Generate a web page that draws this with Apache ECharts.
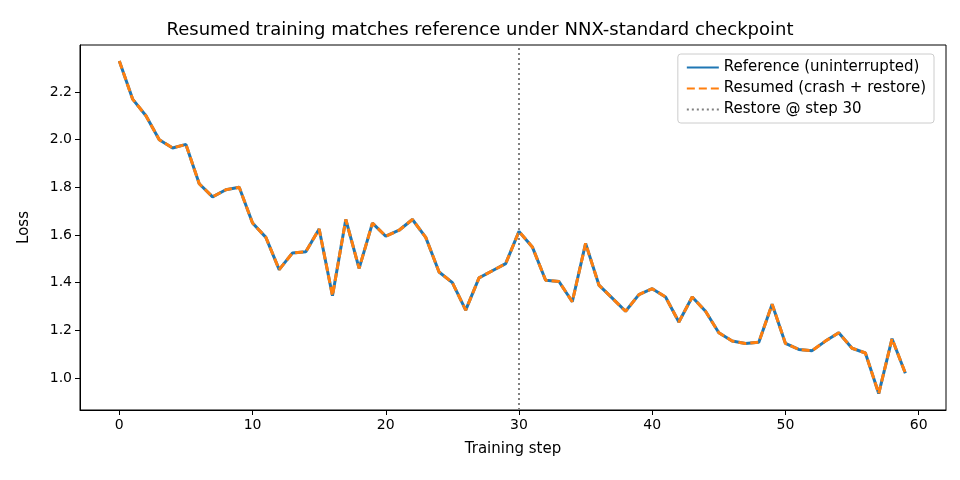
<!DOCTYPE html>
<html><head><meta charset="utf-8">
<script src="https://cdn.jsdelivr.net/npm/echarts@6/dist/echarts.min.js"></script>
<style>html,body{margin:0;padding:0;background:#fff}#c{width:960px;height:480px}</style>
</head><body><div id="c"></div>
<script>
const steps = Array.from({length:60},(_,i)=>i);
const lossRef = [2.33,2.17,2.10,2.00,1.965,1.98,1.815,1.76,1.79,1.80,1.65,1.59,1.455,1.525,1.53,1.625,1.345,1.665,1.46,1.65,1.595,1.62,1.665,1.59,1.445,1.40,1.285,1.42,1.45,1.48,1.615,1.55,1.41,1.405,1.32,1.565,1.39,1.335,1.28,1.35,1.375,1.34,1.235,1.34,1.28,1.19,1.155,1.145,1.15,1.31,1.145,1.12,1.115,1.155,1.19,1.125,1.105,0.935,1.165,1.02];
const lossResumed = lossRef.slice();
const restoreStep = 30;
const xTicks = [0,10,20,30,40,50,60];
const yTicks = [1.0,1.2,1.4,1.6,1.8,2.0,2.2];
const yMin = 0.866, yMax = 2.397;
const chart = echarts.init(document.getElementById('c'));
const font = 'DejaVu Sans';
chart.setOption({
  animation:false,
  textStyle:{fontFamily:font},
  title:{text:'Resumed training matches reference under NNX-standard checkpoint',left:'center',top:16,textStyle:{fontSize:18,fontWeight:'normal',color:'#000',fontFamily:font}},
  grid:{left:80,right:14,top:45,bottom:70,show:true,borderColor:'#000',borderWidth:1},
  legend:{right:26,top:54,orient:'vertical',backgroundColor:'#fff',borderColor:'#ccc',borderWidth:1,borderRadius:3,padding:[6,8],itemGap:6,itemWidth:32,itemHeight:10,
    itemStyle:{opacity:0},textStyle:{fontSize:15,color:'#000'},
    data:[{name:'Reference (uninterrupted)'},{name:'Resumed (crash + restore)'},{name:'Restore @ step 30'}]},
  xAxis:{type:'value',min:-2.95,max:62.05,name:'Training step',nameLocation:'middle',nameGap:32,nameTextStyle:{fontSize:15,color:'#000'},
    axisLine:{onZero:false,lineStyle:{color:'#000'}},splitLine:{show:false},
    axisTick:{customValues:xTicks,length:5,lineStyle:{color:'#000'}},
    axisLabel:{customValues:xTicks,fontSize:14,color:'#000',margin:8}},
  yAxis:{type:'value',min:yMin,max:yMax,name:'Loss',nameLocation:'middle',nameGap:48,nameTextStyle:{fontSize:15,color:'#000'},
    axisLine:{show:true,onZero:false,lineStyle:{color:'#000'}},splitLine:{show:false},
    axisTick:{show:true,customValues:yTicks,length:5,lineStyle:{color:'#000'}},
    axisLabel:{customValues:yTicks,fontSize:14,color:'#000',formatter:v=>v.toFixed(1)}},
  series:[
    {name:'Reference (uninterrupted)',type:'line',symbol:'none',data:steps.map((s,i)=>[s,lossRef[i]]),lineStyle:{color:'#1f77b4',width:3},itemStyle:{color:'#1f77b4'}},
    {name:'Resumed (crash + restore)',type:'line',symbol:'none',data:steps.map((s,i)=>[s,lossResumed[i]]),lineStyle:{color:'#ff7f0e',width:3,type:[8,4]},itemStyle:{color:'#ff7f0e'}},
    {name:'Restore @ step 30',type:'line',symbol:'none',data:[[restoreStep,yMin],[restoreStep,yMax]],lineStyle:{color:'#808080',width:2,type:[2,3]},itemStyle:{color:'#808080'}}
  ]
});
</script></body></html>
